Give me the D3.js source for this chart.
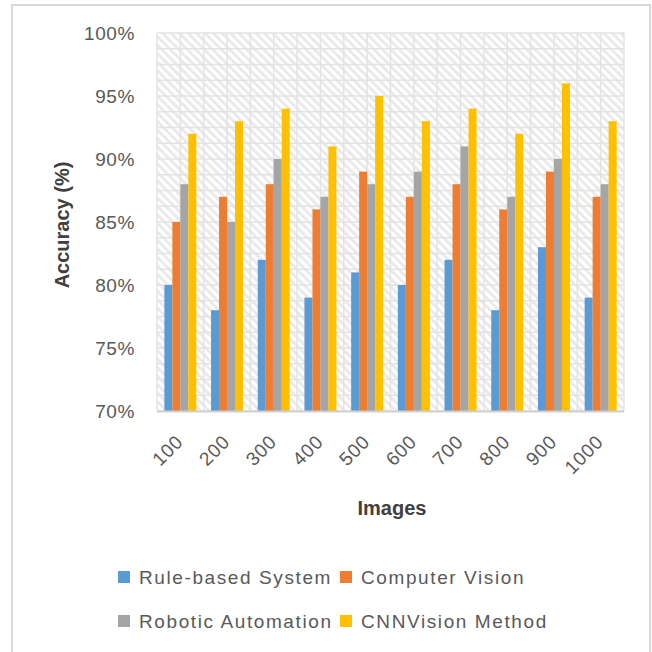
<!DOCTYPE html>
<head>
 <script src="https://cdn.jsdelivr.net/npm/d3@7"></script>
 <title>Accuracy by images</title>
</head>

<style>
body{
  margin: 0;
  background-color: white;
}
text{
  font-family: "Liberation Sans", Arial, sans-serif;
  fill: #595959;
}
</style>

<body>
 <div id="chart"></div>
</body>

<script type="text/javascript">
 var images = ["100", "200", "300", "400", "500", "600", "700", "800", "900", "1000"];
 var seriesNames = ["Rule-based System", "Computer Vision", "Robotic Automation", "CNNVision Method"];
 var ruleBased = [80, 78, 82, 79, 81, 80, 82, 78, 83, 79];
 var computerVision = [85, 87, 88, 86, 89, 87, 88, 86, 89, 87];
 var roboticAutomation = [88, 85, 90, 87, 88, 89, 91, 87, 90, 88];
 var cnnVision = [92, 93, 94, 91, 95, 93, 94, 92, 96, 93];
 var yTicks = [70, 75, 80, 85, 90, 95, 100];
 var colors = ["#5b9bd5", "#ed7d31", "#a5a5a5", "#ffc000"];

 var props = {
   width: 652,
   height: 652,
   left: 157,
   right: 624,
   top: 33,
   bottom: 411
 }

 var seriesValues = [ruleBased, computerVision, roboticAutomation, cnnVision];

 var svg = d3.select("#chart").append("svg")
   .attr("width", props.width).attr("height", props.height);

 // hatch for the plot area
 var pat = svg.append("defs").append("pattern")
   .attr("id", "hatch").attr("patternUnits", "userSpaceOnUse")
   .attr("width", 6).attr("height", 6)
   .attr("patternTransform", "rotate(-45)");
 pat.append("rect").attr("width", 6).attr("height", 6).attr("fill", "white");
 pat.append("rect").attr("width", 2.8).attr("height", 6).attr("fill", "#e9e9e9");

 // outer border
 svg.append("rect")
   .attr("x", 12).attr("y", 5).attr("width", 638).attr("height", 660)
   .attr("fill", "none").attr("stroke", "#d9d9d9").attr("stroke-width", 2);

 var x = d3.scaleBand().domain(images)
   .range([props.left, props.right])
   .paddingInner(0.315).paddingOuter(0.1575);
 var xs = d3.scaleBand().domain(d3.range(seriesNames.length)).range([0, x.bandwidth()]);
 var y = d3.scaleLinear().domain([70, 100]).range([props.bottom, props.top]);

 svg.append("rect")
   .attr("x", props.left).attr("y", props.top)
   .attr("width", props.right - props.left).attr("height", props.bottom - props.top)
   .attr("fill", "url(#hatch)");

 // grid: minor lines every 1.25%, vertical lines every half category
 var step = x.step();
 var hLines = d3.range(70, 100.01, 1.25);
 svg.append("g").selectAll("line").data(hLines).enter().append("line")
   .attr("x1", props.left).attr("x2", props.right)
   .attr("y1", function(d){ return y(d); }).attr("y2", function(d){ return y(d); })
   .attr("stroke", "#e3e3e3").attr("stroke-width", 1.5);
 var vLines = d3.range(0, images.length * 2 + 1);
 svg.append("g").selectAll("line").data(vLines).enter().append("line")
   .attr("x1", function(d){ return props.left + d * step / 2; })
   .attr("x2", function(d){ return props.left + d * step / 2; })
   .attr("y1", props.top).attr("y2", props.bottom)
   .attr("stroke", "#e3e3e3").attr("stroke-width", 1.5);

 // bars
 seriesValues.forEach(function(vals, s){
   svg.append("g").selectAll("rect").data(vals).enter().append("rect")
     .attr("x", function(d, i){ return x(images[i]) + xs(s); })
     .attr("y", function(d){ return y(d); })
     .attr("width", xs.bandwidth())
     .attr("height", function(d){ return y(70) - y(d); })
     .attr("fill", colors[s]);
 });

 // bottom axis line
 svg.append("line")
   .attr("x1", props.left).attr("x2", props.right)
   .attr("y1", props.bottom + 0.5).attr("y2", props.bottom + 0.5)
   .attr("stroke", "#d0d0d0").attr("stroke-width", 2);

 // y tick labels
 svg.append("g").selectAll("text").data(yTicks).enter().append("text")
   .attr("x", props.left - 22)
   .attr("y", function(d){ return y(d); })
   .attr("dy", "0.35em")
   .attr("text-anchor", "end")
   .style("font-size", "19px").style("letter-spacing", "0.6px")
   .text(function(d){ return d + "%"; });

 // x tick labels
 svg.append("g").selectAll("text").data(images).enter().append("text")
   .attr("transform", function(d){
     return "translate(" + (x(d) + x.bandwidth() / 2 + 4) + "," + 443 + ") rotate(-45)";
   })
   .attr("text-anchor", "end")
   .style("font-size", "19px").style("letter-spacing", "0.8px")
   .text(function(d){ return d; });

 // axis titles
 svg.append("text")
   .attr("x", 392).attr("y", 515)
   .attr("text-anchor", "middle")
   .style("font-size", "20px").style("font-weight", "bold").style("fill", "#404040")
   .text("Images");
 svg.append("text")
   .attr("transform", "translate(69,225) rotate(-90)")
   .attr("text-anchor", "middle")
   .style("font-size", "20px").style("font-weight", "bold").style("fill", "#404040")
   .text("Accuracy (%)");

 // legend, two rows of two
 var legendPos = [[118, 577], [340, 577], [118, 621], [340, 621]];
 var lg = svg.append("g").selectAll("g").data(seriesNames).enter().append("g")
   .attr("transform", function(d, i){ return "translate(" + legendPos[i][0] + "," + legendPos[i][1] + ")"; });
 lg.append("rect")
   .attr("x", 0).attr("y", -6).attr("width", 12).attr("height", 12)
   .attr("fill", function(d, i){ return colors[i]; });
 lg.append("text")
   .attr("x", 21).attr("dy", "0.35em")
   .style("font-size", "19px").style("letter-spacing", "1.6px")
   .text(function(d){ return d; });
</script>
